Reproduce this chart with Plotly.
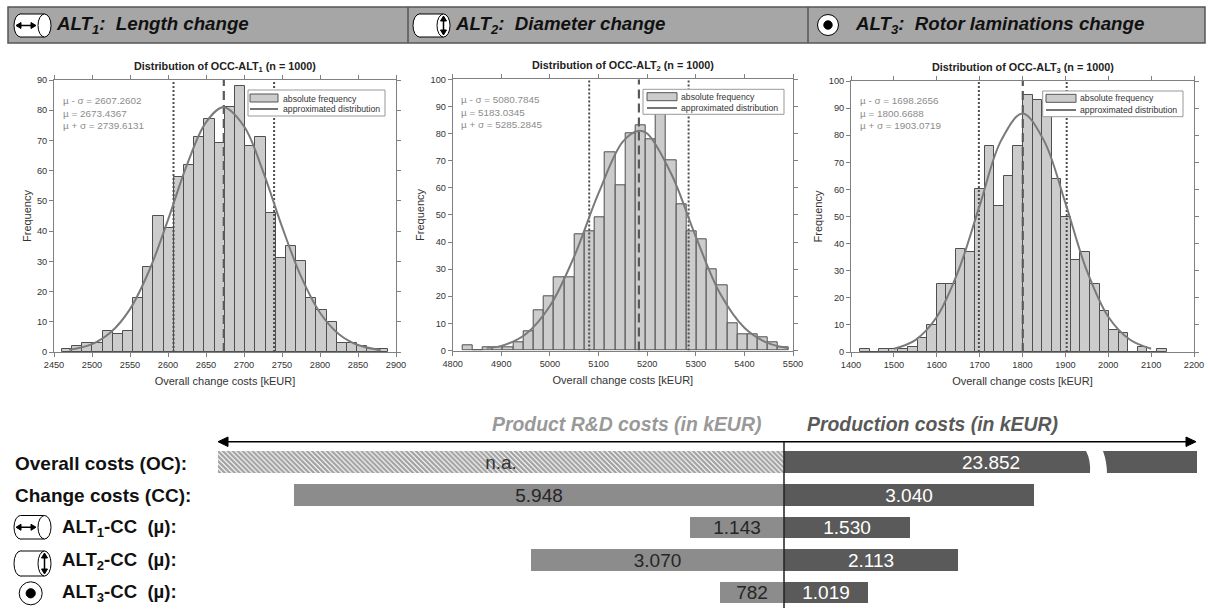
import plotly.graph_objects as go

W, H = 1208, 609
def px(x): return x / W
def py(y): return 1 - y / H

# ---------- histogram data ----------
freq_1 = [1,2,3,3,7,6,7,18,28,45,41,58,62,71,77,69,81,88,68,71,46,31,35,30,18,14,10,3,3,2,1,1]
freq_2 = [2,0,1,1,1,3,7,15,20,27,27,43,44,49,73,61,80,83,78,91,70,54,44,41,30,24,10,6,6,5,3,1]
freq_3 = [1,0,1,1,1,2,5,10,25,25,38,37,60,76,54,65,76,95,93,92,64,50,34,37,25,15,8,7,0,2,0,1]
first_bin = [2467.0, 4830.5, 1432.2]
bin_width = [13.4, 20.95, 22.35]

curve_x_1 = [2470,2500,2525,2550,2575,2600,2625,2650,2673,2700,2725,2750,2775,2800,2825,2850,2880]
curve_y_1 = [0.7,2.6,6.6,14.2,26.8,43.7,62,76,81,74.7,59.8,41.5,25,13,5.9,2.3,0.6]
curve_x_2 = [4870,4900,4950,5000,5050,5100,5150,5183,5200,5250,5300,5350,5400,5450,5490]
curve_y_2 = [1.0,1.7,6,16.4,34.7,58,77,81,80,65,42,21,8.4,2.6,0.9]
curve_x_3 = [1500,1550,1600,1650,1700,1750,1800,1850,1900,1950,2000,2050,2100]
curve_y_3 = [1.2,4.4,12.9,29.8,54,78,88,78,55,30,13,4.6,1.2]

mu_minus = [2607.2602, 5080.7845, 1698.2656]
mu = [2673.4367, 5183.0345, 1800.6688]
mu_plus = [2739.6131, 5285.2845, 1903.0719]

x_ranges = [[2450,2900],[4800,5500],[1400,2200]]
x_dticks = [50,100,100]
y_ranges = [[0,90],[0,100],[0,100]]

# ---------- cost bar data ----------
rows = ["Overall costs (OC):","Change costs (CC):","ALT<sub>1</sub>-CC  (µ):","ALT<sub>2</sub>-CC  (µ):","ALT<sub>3</sub>-CC  (µ):"]
rnd_rows = rows[1:]
rnd_costs = [5948,1143,3070,782]
rnd_labels = ["5.948","1.143","3.070","782"]
prod_costs = [23852,3040,1530,2113,1019]
prod_labels = ["23.852","3.040","1.530","2.113","1.019"]
na_extent = [6877]
cost_axis_range = [-6877,5018]

headers = ["ALT<sub>1</sub>:  Length change","ALT<sub>2</sub>:  Diameter change","ALT<sub>3</sub>:  Rotor laminations change"]
titles = ["Distribution of OCC-ALT<sub>1</sub> (n = 1000)","Distribution of OCC-ALT<sub>2</sub> (n = 1000)","Distribution of OCC-ALT<sub>3</sub> (n = 1000)"]
legend_names = ["absolute frequency","approximated distribution"]

FONT = "Liberation Sans"
fig = go.Figure()
annotations, shapes = [], []
layout = {}

# ---------- drawing helpers (pixel positions for page furniture) ----------
def rect(x0,y0,x1,y1,fill,line="rgba(0,0,0,0)",w=0,layer="above"):
    shapes.append(dict(type="rect",xref="paper",yref="paper",x0=px(x0),x1=px(x1),y0=py(y1),y1=py(y0),fillcolor=fill,line=dict(color=line,width=w),layer=layer))
def path(pts,fill=None,line="#000000",w=1):
    d = "M"+" L".join(f"{px(a)},{py(b)}" for a,b in pts)+(" Z" if fill else "")
    shapes.append(dict(type="path",xref="paper",yref="paper",path=d,fillcolor=fill or "rgba(0,0,0,0)",line=dict(color=line,width=w)))
def ellipse(cx,cy,rx,ry,fill="white",line="#000000",w=1):
    shapes.append(dict(type="circle",xref="paper",yref="paper",x0=px(cx-rx),x1=px(cx+rx),y0=py(cy+ry),y1=py(cy-ry),fillcolor=fill,line=dict(color=line,width=w)))
def label(x,y,text,size,color,anchor="left"):
    off = {"left":-2,"right":2,"center":0}[anchor]
    annotations.append(dict(xref="paper",yref="paper",x=px(x+off),y=py(y),xanchor=anchor,yanchor="middle",showarrow=False,
        text=text,font=dict(size=size,family=FONT,color=color)))
def cyl(x0,y0,w_,h_,arrow):
    rx = 6.5
    ellipse(x0+rx,y0+h_/2,rx,h_/2)
    rect(x0+rx,y0,x0+w_-rx,y0+h_,"white")
    path([(x0+rx,y0),(x0+w_-rx,y0)]); path([(x0+rx,y0+h_),(x0+w_-rx,y0+h_)])
    ellipse(x0+w_-rx,y0+h_/2,rx,h_/2)
    if arrow == "h":
        cy_ = y0+h_/2; a,b = x0+2,x0+w_-15
        path([(a+4,cy_),(b-4,cy_)],w=1.5)
        path([(a,cy_),(a+5,cy_-3),(a+5,cy_+3)],fill="#000000"); path([(b,cy_),(b-5,cy_-3),(b-5,cy_+3)],fill="#000000")
    else:
        cx_ = x0+w_-rx; a,b = y0+2,y0+h_-2
        path([(cx_,a+4),(cx_,b-4)],w=1.5)
        path([(cx_,a),(cx_-3,a+5),(cx_+3,a+5)],fill="#000000"); path([(cx_,b),(cx_-3,b-5),(cx_+3,b-5)],fill="#000000")
def rotor(cx,cy,r):
    ellipse(cx,cy,r,r); ellipse(cx,cy,r*0.4,r*0.4,fill="#000000")

# pixel boxes of the axes: left, right, top, bottom
boxes = [(54,396,80,352),(452.7,793,79.3,350.5),(851,1194,81,352)]
# legend: box x0,x1,y0,y1, swatch x0,x1,y0,y1, text x, row y's
legends = [(248,385,90,116, 250,278,94,102, 281,99,109),
           (643,784,89.3,114.3, 647,677,92.7,100.7, 679,97,108),
           (1042.7,1183,91,116.7, 1046,1076,94.3,102.3, 1078,98.5,110)]
text_pos = [(63,100),(461,99),(860,100)]
title_y = [67,66,68]

freqs = [freq_1,freq_2,freq_3]
cxs = [curve_x_1,curve_x_2,curve_x_3]
cys = [curve_y_1,curve_y_2,curve_y_3]

for i in range(3):
    n = "" if i == 0 else str(i+1)
    ax_x, ax_y = "x"+n, "y"+n
    fig.add_trace(go.Bar(x0=first_bin[i],dx=bin_width[i],y=freqs[i],width=bin_width[i],xaxis=ax_x,yaxis=ax_y,
        marker=dict(color="#cccccc",line=dict(color="#4f4f4f",width=1)),name=legend_names[0],showlegend=False))
    for v in (mu_minus[i],mu_plus[i]):
        fig.add_trace(go.Scatter(x=[v,v],y=y_ranges[i],mode="lines",xaxis=ax_x,yaxis=ax_y,showlegend=False,
            line=dict(color="#4d4d4d",width=2,dash="2px,2px"),hoverinfo="skip"))
    fig.add_trace(go.Scatter(x=[mu[i],mu[i]],y=y_ranges[i],mode="lines",xaxis=ax_x,yaxis=ax_y,showlegend=False,
        line=dict(color="#5a5a5a",width=2.2,dash="9px,5px"),hoverinfo="skip"))
    fig.add_trace(go.Scatter(x=cxs[i],y=cys[i],mode="lines",xaxis=ax_x,yaxis=ax_y,name=legend_names[1],showlegend=False,
        line=dict(color="#7a7a7a",width=2,shape="spline",smoothing=1.0)))
    l,r,t,b = boxes[i]
    axis_common = dict(showgrid=False,zeroline=False,showline=True,linecolor="#808080",linewidth=1,mirror="ticks",
                       ticks="outside",ticklen=4,tickcolor="#808080",tickfont=dict(size=9.2,family=FONT,color="#333333"))
    layout["xaxis"+n] = dict(domain=[px(l),px(r)],range=x_ranges[i],dtick=x_dticks[i],anchor=ax_y,
        title=dict(text="Overall change costs [kEUR]",font=dict(size=11,family=FONT,color="#333333"),standoff=8),**axis_common)
    layout["yaxis"+n] = dict(domain=[py(b),py(t)],range=y_ranges[i],dtick=10,anchor=ax_x,
        title=dict(text="Frequency",font=dict(size=11,family=FONT,color="#333333"),standoff=3),**axis_common)
    # legend drawn in place so that its size follows the reference
    bx0,bx1,by0,by1,sx0,sx1,sy0,sy1,tx_,ry1,ry2 = legends[i]
    rect(bx0,by0,bx1,by1,"white","#999999",1)
    rect(sx0,sy0,sx1,sy1,"#cccccc","#555555",1)
    path([(sx0,ry2),(sx1,ry2)],line="#757575",w=2)
    label(tx_+2,ry1,legend_names[0],8.7,"#333333")
    label(tx_+2,ry2,legend_names[1],8.7,"#333333")
    label((l+r)/2,title_y[i],"<b>"+titles[i]+"</b>",10.8,"#222222",anchor="center")
    tx,ty = text_pos[i]
    for k,s in enumerate([f"µ - σ = {mu_minus[i]:.4f}",f"µ = {mu[i]:.4f}",f"µ + σ = {mu_plus[i]:.4f}"]):
        label(tx,ty+k*13,s,9.9,"#8c8c8c")

# ---------- cost bars ----------
bar_w = 0.663
txt_common = dict(textposition="inside",insidetextanchor="middle",textangle=0,constraintext="none",orientation="h",
                  xaxis="x4",yaxis="y4",showlegend=False,width=bar_w)
fig.add_trace(go.Bar(y=rows[:1],x=[-v for v in na_extent],
    marker=dict(color="white",line=dict(width=0),pattern=dict(shape="\\",size=3.5,solidity=0.7,fgcolor="#4a4a4a",bgcolor="white")),
    text=["n.a."],textfont=dict(size=19,family=FONT,color="#333333"),**txt_common))
fig.add_trace(go.Bar(y=rnd_rows,x=[-v for v in rnd_costs],
    marker=dict(color="#8c8c8c",line=dict(width=0)),
    text=rnd_labels,textfont=dict(size=19,family=FONT,color="#262626"),**txt_common))
# the overall bar runs past the axis end (it carries a break mark), so its label is centred on the visible part
fig.add_trace(go.Bar(y=rows,x=prod_costs,
    marker=dict(color="#5a5a5a",line=dict(width=0)),
    text=[""]+prod_labels[1:],textfont=dict(size=19,family=FONT,color="white"),**txt_common))
annotations.append(dict(xref="x4",yref="y4",x=cost_axis_range[1]/2,y=rows[0],showarrow=False,xanchor="center",yanchor="middle",
    text=prod_labels[0],font=dict(size=19,family=FONT,color="white")))
layout["xaxis4"] = dict(domain=[px(218),px(1197)],range=cost_axis_range,anchor="y4",visible=False)
layout["yaxis4"] = dict(domain=[py(609),py(446.2)],range=[4.5,-0.5],anchor="x4",visible=False,type="category",categoryorder="array",categoryarray=rows)

row_y = [463,495,527.5,561,593]
row_size = [19,19,18.6,18.6,18.6]
for k,lab in enumerate(rows):
    label(15 if k<2 else 62,row_y[k],"<b>"+lab+"</b>",row_size[k],"#111111")

label(492,424,"<b><i>Product R&D costs (in kEUR)</i></b>",19.4,"#999999")
label(807,424,"<b><i>Production costs (in kEUR)</i></b>",19.4,"#595959")

# ---------- page furniture ----------
rect(8,7,1205,43,"#a6a6a6","#555555",1.5)
for xd in (408,808):
    path([(xd,7),(xd,43)],line="#555555",w=1.5)
cyl(14,14,37,23,"h"); cyl(413,14,37,23,"v"); rotor(828,25,10.5)
hdr_x = [56,455,855]
for i,h in enumerate(headers):
    label(hdr_x[i],25,"<b><i>"+h+"</i></b>",18.7,"#111111")
cyl(14,515.5,37,23.5,"h"); cyl(14,551,37,25,"v"); rotor(30.7,593.3,11.5)

# arrow and axis cross line
path([(226,441.7),(1188,441.7)],w=1.5)
path([(218,441.7),(228,437),(228,446.5)],fill="#000000")
path([(1196,441.7),(1186,437),(1186,446.5)],fill="#000000")
path([(784,441.7),(784,608)],w=1.5,line="#222222")
# break in the overall cost bar
shapes.append(dict(type="path",xref="paper",yref="paper",
    path=f"M{px(1086)},{py(451)} Q{px(1091)},{py(460)} {px(1090)},{py(474)} L{px(1107)},{py(474)} Q{px(1107)},{py(462)} {px(1103)},{py(451)} Z",
    fillcolor="white",line=dict(width=0)))

fig.update_layout(width=W,height=H,margin=dict(l=0,r=0,t=0,b=0,autoexpand=False),paper_bgcolor="white",plot_bgcolor="white",
    barmode="relative",bargap=0,annotations=annotations,shapes=shapes,font=dict(family=FONT),showlegend=False,**layout)
fig.write_html("out.html",config=dict(displayModeBar=False),post_script="document.body.style.margin='0';document.body.style.overflow='hidden';")
